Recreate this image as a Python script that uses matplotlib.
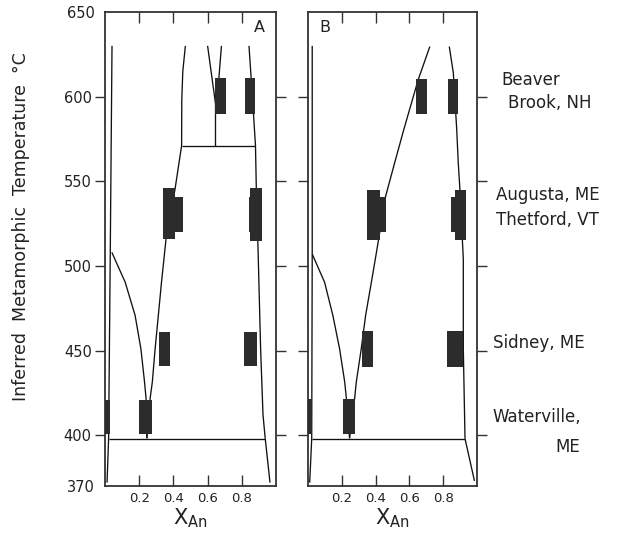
import matplotlib
matplotlib.use("Agg")
import matplotlib.pyplot as plt

plt.rcParams['font.family'] = ['DejaVu Sans']
plt.rcParams['mathtext.default'] = 'regular'

# ---------------- data ----------------
y_ticks = [400, 450, 500, 550, 600]
y_extra_ticks = [370, 650]
x_ticks = [0.2, 0.4, 0.6, 0.8]
x_tick_labels = ['0.2', '0.4', '0.6', '0.8']
panel_names = ['A', 'B']
site_labels = ['Beaver', 'Brook, NH', 'Augusta, ME', 'Thetford, VT',
               'Sidney, ME', 'Waterville,', 'ME']

# Panel A phase boundaries (X_An, T)
A_left_x = [0.041, 0.031, 0.021, 0.012]
A_left_t = [630, 510, 398, 372]
A_solvus_x = [0.04, 0.118, 0.176, 0.21, 0.231, 0.24, 0.245]
A_solvus_t = [508, 490.4, 470.8, 451, 431.6, 421.8, 398.2]
A_branch_x = [0.245, 0.264, 0.277, 0.293, 0.312, 0.33, 0.357, 0.409, 0.448, 0.449, 0.455, 0.47]
A_branch_t = [398.2, 421.8, 431.6, 451, 470.8, 490, 516, 545, 571, 598, 615, 630]
A_iso_x = [0.448, 0.88]
A_iso_t = [571, 571]
A_stem_x = [0.646, 0.646]
A_stem_t = [571, 596]
A_yl_x = [0.646, 0.60]
A_yl_t = [596, 630]
A_yr_x = [0.646, 0.666, 0.681]
A_yr_t = [596, 611, 630]
A_right_x = [0.842, 0.862, 0.88, 0.885, 0.895, 0.91, 0.924, 0.937]
A_right_t = [630, 600, 571, 545, 510, 451, 412, 398]
A_lowright_x = [0.937, 0.965]
A_lowright_t = [398, 372]
A_base_x = [0.021, 0.937]
A_base_t = [398, 398]

# Panel B phase boundaries
B_left_x = [0.025, 0.025, 0.022, 0.010]
B_left_t = [630, 507, 398, 372]
B_solvus_x = [0.025, 0.098, 0.147, 0.187, 0.217, 0.227, 0.246]
B_solvus_t = [507, 490.4, 470.8, 451, 431.6, 421.8, 398.2]
B_branch_x = [0.246, 0.276, 0.286, 0.315, 0.341, 0.375, 0.405, 0.46, 0.513, 0.567, 0.652, 0.721]
B_branch_t = [398.2, 421.8, 431.6, 451, 470.8, 490.4, 508, 541.4, 561, 580.6, 610, 629.6]
B_right_x = [0.836, 0.86, 0.88, 0.889, 0.899, 0.919, 0.919, 0.929]
B_right_t = [629.6, 614, 580.6, 561, 545, 504, 451, 398]
B_lowright_x = [0.929, 0.985]
B_lowright_t = [398, 373]
B_base_x = [0.022, 0.929]
B_base_t = [398, 398]

# Plagioclase composition boxes: X_An min/max, T min/max
A_box_xmin = [0.643, 0.817, 0.341, 0.380, 0.850, 0.842, 0.318, 0.813, 0.200, 0.000]
A_box_xmax = [0.705, 0.878, 0.409, 0.458, 0.918, 0.900, 0.380, 0.891, 0.277, 0.027]
A_box_tmin = [590, 590, 516, 520, 515, 520, 441, 441, 401, 401]
A_box_tmax = [611, 611, 546, 541, 546, 541, 461, 461, 421, 421]

B_box_xmin = [0.642, 0.826, 0.349, 0.375, 0.869, 0.844, 0.322, 0.824, 0.207, 0.000]
B_box_xmax = [0.707, 0.889, 0.424, 0.460, 0.933, 0.919, 0.385, 0.919, 0.276, 0.025]
B_box_tmin = [590, 590, 515.5, 520, 515.5, 520, 440.5, 440.5, 400.5, 400.5]
B_box_tmax = [610.5, 610.5, 545, 540.5, 545, 540.5, 461.5, 461.5, 421.5, 421.5]

# ---------------- figure ----------------
W, H = 622, 537
fig = plt.figure(figsize=(W / 100, H / 100), dpi=100)

def px_rect(l, r, t, b):
    return [l / W, 1 - b / H, (r - l) / W, (b - t) / H]

axA = fig.add_axes(px_rect(105, 276, 12, 486))
axB = fig.add_axes(px_rect(308, 477, 12, 486))

line_kw = dict(color='#111111', lw=0.95, solid_capstyle='butt')
box_color = '#2c2c2c'

panels = [
    (axA,
     [(A_left_x, A_left_t), (A_solvus_x, A_solvus_t), (A_branch_x, A_branch_t),
      (A_iso_x, A_iso_t), (A_stem_x, A_stem_t), (A_yl_x, A_yl_t), (A_yr_x, A_yr_t),
      (A_right_x, A_right_t), (A_lowright_x, A_lowright_t), (A_base_x, A_base_t)],
     (A_box_xmin, A_box_xmax, A_box_tmin, A_box_tmax)),
    (axB,
     [(B_left_x, B_left_t), (B_solvus_x, B_solvus_t), (B_branch_x, B_branch_t),
      (B_right_x, B_right_t), (B_lowright_x, B_lowright_t), (B_base_x, B_base_t)],
     (B_box_xmin, B_box_xmax, B_box_tmin, B_box_tmax)),
]

for i, (ax, lines, boxes) in enumerate(panels):
    for xs, ts in lines:
        ax.plot(xs, ts, **line_kw)
    xmin, xmax, tmin, tmax = boxes
    widths = [b - a for a, b in zip(xmin, xmax)]
    heights = [b - a for a, b in zip(tmin, tmax)]
    ax.bar(xmin, heights, width=widths, bottom=tmin, align='edge',
           color=box_color, edgecolor='none', zorder=3)

    ax.set_xlim(0, 1)
    ax.set_ylim(370, 650)
    ax.set_xticks(x_ticks)
    ax.set_xticklabels(x_tick_labels, fontsize=9.5, color='#222222')
    ax.set_yticks(y_ticks)
    ax.tick_params(axis='x', direction='in', top=True, bottom=True,
                   length=8, width=1.0, color='#333333', pad=4)
    ax.tick_params(axis='y', direction='out', left=True, right=True,
                   length=7, width=1.0, color='#333333', pad=2.5)
    for sp in ax.spines.values():
        sp.set_color('#333333')
        sp.set_linewidth(1.3)
    ax.set_xlabel('$X_{An}$', fontsize=15, color='#222222', labelpad=1)
    if i == 0:
        ax.set_yticklabels([str(v) for v in y_ticks], fontsize=10.5, color='#222222')
        ax.set_yticks(y_extra_ticks, minor=True)
        ax.set_yticklabels([str(v) for v in y_extra_ticks], minor=True,
                           fontsize=10.5, color='#222222')
        ax.tick_params(axis='y', which='minor', length=0, pad=7.5)
        ax.text(0.905, 0.967, panel_names[i], transform=ax.transAxes,
                ha='center', va='center', fontsize=11.5, color='#222222')
    else:
        ax.set_yticklabels([])
        ax.text(0.10, 0.967, panel_names[i], transform=ax.transAxes,
                ha='center', va='center', fontsize=11.5, color='#222222')

fig.text(21.5 / W, 1 - 227 / H, 'Inferred  Metamorphic  Temperature  °C',
         rotation=90, ha='center', va='center', fontsize=12.5, color='#222222')

label_px = [(501.7, 80), (508, 102.5), (496, 195), (496, 220),
            (492.7, 342.5), (492.7, 417.5), (555, 446.7)]
for txt, (x, y) in zip(site_labels, label_px):
    fig.text(x / W, 1 - y / H, txt, ha='left', va='center',
             fontsize=12, color='#222222')

fig.savefig('out.png', dpi=100, facecolor='white')
